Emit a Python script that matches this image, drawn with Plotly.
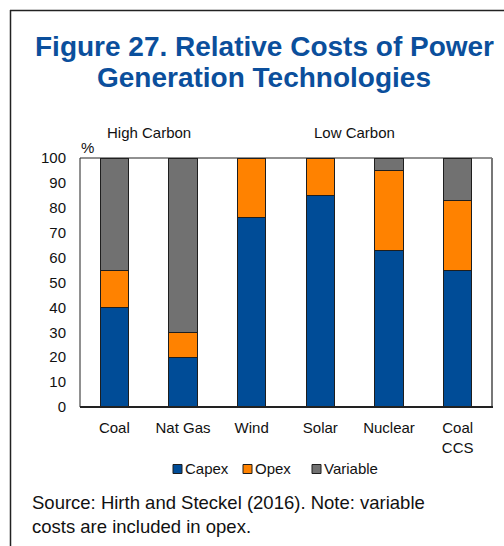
import plotly.graph_objects as go

# Share of levelised cost by component, per technology (%)
technologies = ["Coal", "Nat Gas", "Wind", "Solar", "Nuclear", "Coal<br>CCS"]
capex = [40, 20, 76, 85, 63, 55]
opex = [15, 10, 24, 15, 32, 28]
variable = [45, 70, 0, 0, 5, 17]

series_names = ["Capex", "Opex", "Variable"]
series_colors = ["#004C97", "#FF8200", "#717171"]
y_ticks = [0, 10, 20, 30, 40, 50, 60, 70, 80, 90, 100]

W, H = 504, 546
FONT = "Liberation Sans, Arial, sans-serif"


def px_x(x):
    return x / W


def px_y(y):
    return 1 - y / H


fig = go.Figure()
for name, vals, col in zip(series_names, [capex, opex, variable], series_colors):
    fig.add_trace(go.Bar(
        x=technologies, y=vals, name=name,
        marker=dict(color=col, line=dict(color="#1e1e1e", width=1)),
        showlegend=False,
    ))

# plot area in pixels
L, R, T, B = 80, 492, 158, 407

shapes = [
    # outer frame (left and top edges)
    dict(type="line", xref="paper", yref="paper", x0=px_x(10.5), x1=px_x(10.5),
         y0=px_y(10), y1=px_y(546), line=dict(color="#222", width=1.5)),
    dict(type="line", xref="paper", yref="paper", x0=px_x(10), x1=px_x(504),
         y0=px_y(10.5), y1=px_y(10.5), line=dict(color="#222", width=1.5)),
    # plot frame
    dict(type="line", xref="paper", yref="paper", x0=px_x(L), x1=px_x(R),
         y0=px_y(T), y1=px_y(T), line=dict(color="#222", width=1)),
    dict(type="line", xref="paper", yref="paper", x0=px_x(L), x1=px_x(L),
         y0=px_y(T), y1=px_y(B), line=dict(color="#222", width=1)),
    dict(type="line", xref="paper", yref="paper", x0=px_x(R), x1=px_x(R),
         y0=px_y(T), y1=px_y(B), line=dict(color="#777", width=2)),
    dict(type="line", xref="paper", yref="paper", x0=px_x(L), x1=px_x(R + 1),
         y0=px_y(B), y1=px_y(B), line=dict(color="#222", width=2)),
]

annotations = [
    dict(text="<b>Figure 27. Relative Costs of Power</b>", x=px_x(264), y=px_y(46),
         xref="paper", yref="paper", showarrow=False, xanchor="center", yanchor="middle",
         font=dict(family=FONT, size=28, color="#0B4F9C")),
    dict(text="<b>Generation Technologies</b>", x=px_x(264), y=px_y(77.5),
         xref="paper", yref="paper", showarrow=False, xanchor="center", yanchor="middle",
         font=dict(family=FONT, size=28, color="#0B4F9C")),
    dict(text="High Carbon", x=0.5, y=px_y(132), xref="x", yref="paper",
         showarrow=False, xanchor="center", yanchor="middle",
         font=dict(family=FONT, size=15, color="#111")),
    dict(text="Low Carbon", x=3.5, y=px_y(132), xref="x", yref="paper",
         showarrow=False, xanchor="center", yanchor="middle",
         font=dict(family=FONT, size=15, color="#111")),
    dict(text="%", x=px_x(87), y=px_y(148), xref="paper", yref="paper",
         showarrow=False, xanchor="center", yanchor="middle",
         font=dict(family=FONT, size=15, color="#111")),
    dict(text="Source: Hirth and Steckel (2016). Note: variable", x=px_x(30), y=px_y(502),
         xref="paper", yref="paper", showarrow=False, xanchor="left", yanchor="middle",
         font=dict(family=FONT, size=18.5, color="#111")),
    dict(text="costs are included in opex.", x=px_x(30), y=px_y(526),
         xref="paper", yref="paper", showarrow=False, xanchor="left", yanchor="middle",
         font=dict(family=FONT, size=18.5, color="#111")),
]

# compact legend: swatch + label
legend_x = [173, 243, 312]
for name, col, lx in zip(series_names, series_colors, legend_x):
    shapes.append(dict(type="rect", xref="paper", yref="paper",
                       x0=px_x(lx), x1=px_x(lx + 9), y0=px_y(473.5), y1=px_y(464.5),
                       fillcolor=col, line=dict(color="#1e1e1e", width=1)))
    annotations.append(dict(text=name, x=px_x(lx + 10), y=px_y(469), xref="paper",
                            yref="paper", showarrow=False, xanchor="left", yanchor="middle",
                            font=dict(family=FONT, size=15, color="#111")))

fig.update_layout(
    width=W, height=H,
    margin=dict(l=0, r=0, t=0, b=0),
    paper_bgcolor="white", plot_bgcolor="white",
    barmode="stack", bargap=0.59,
    font=dict(family=FONT, size=15, color="#111"),
    xaxis=dict(domain=[px_x(L), px_x(R)], showgrid=False, showline=False,
               ticks="", automargin=False, tickfont=dict(size=15, color="#111"),
               ticklabelstandoff=10),
    yaxis=dict(domain=[px_y(B), px_y(T)], range=[0, 100], tickvals=y_ticks,
               showgrid=False, showline=False, ticks="", zeroline=False,
               automargin=False, tickfont=dict(size=15, color="#111"),
               ticklabelstandoff=13),
    shapes=shapes,
    annotations=annotations,
)

fig.write_html("out.html")
